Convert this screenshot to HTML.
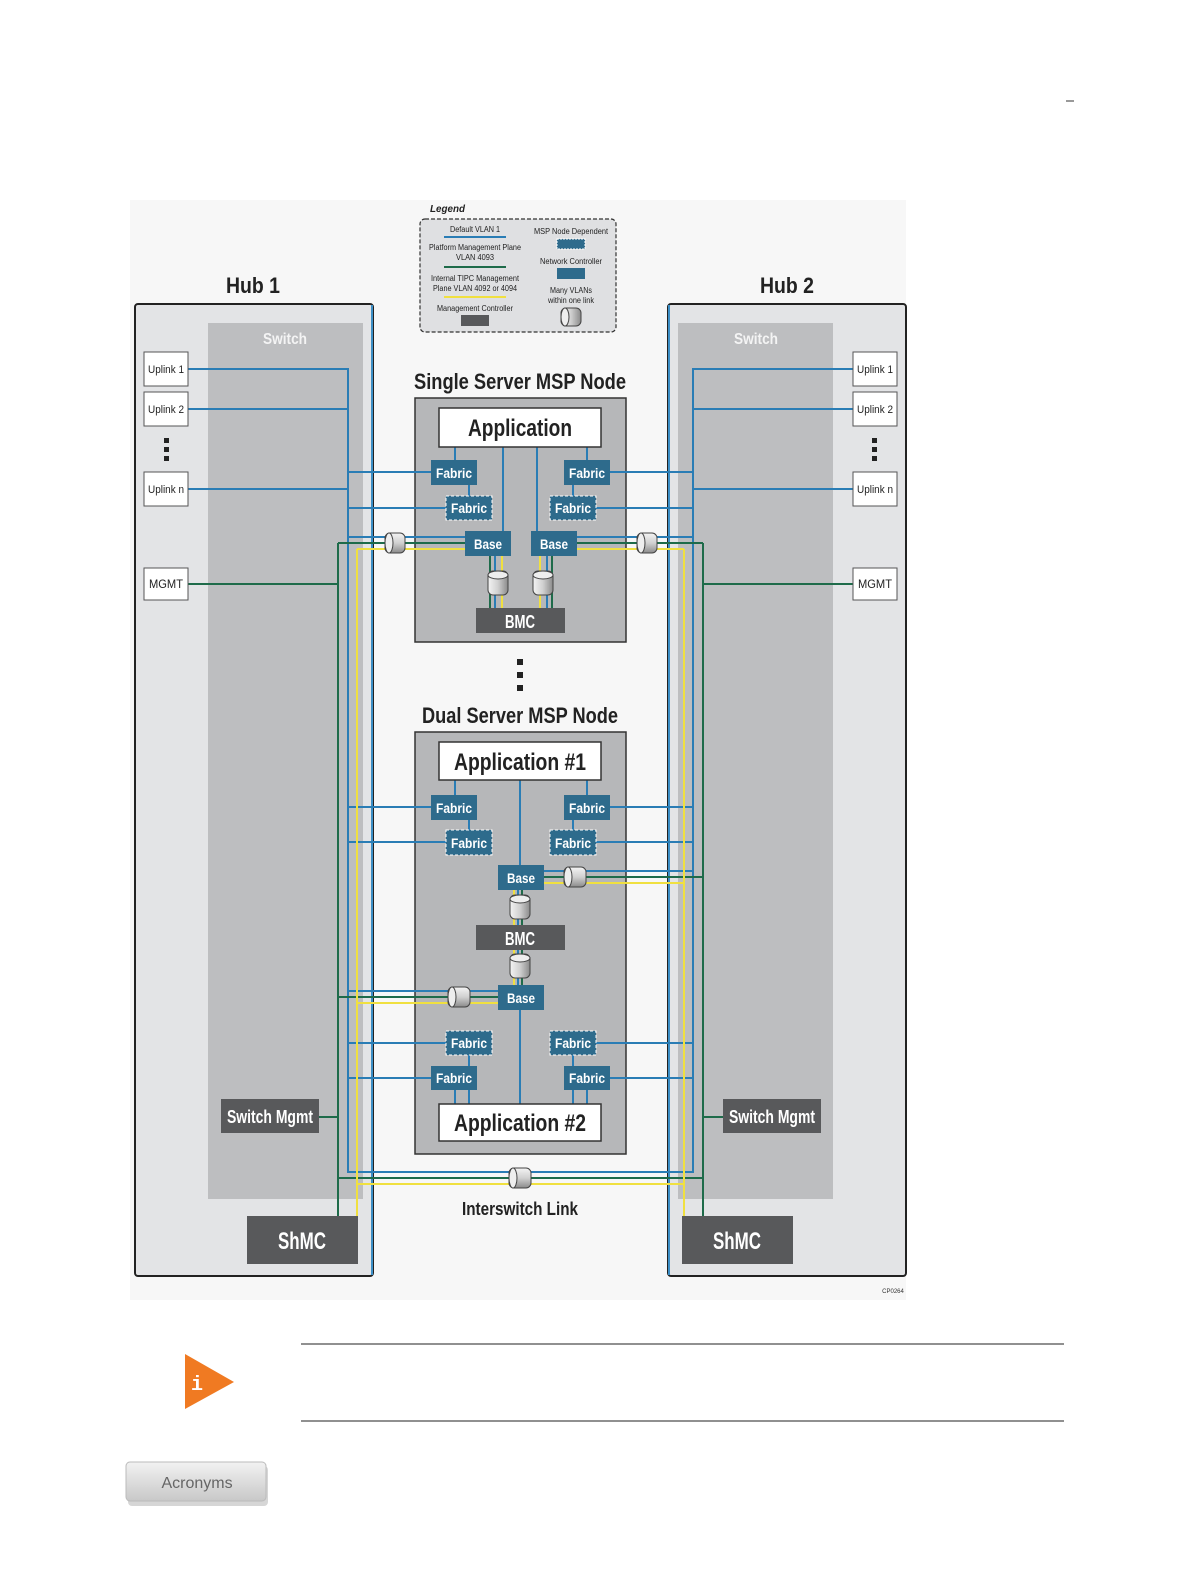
<!DOCTYPE html>
<html><head><meta charset="utf-8"><style>
html,body{margin:0;padding:0;background:#fff;}
svg{display:block;}
</style></head><body>
<svg width="1191" height="1588" viewBox="0 0 1191 1588" xmlns="http://www.w3.org/2000/svg" font-family="'Liberation Sans',sans-serif">
<defs>
<linearGradient id="cyl" x1="0" y1="0" x2="0" y2="1"><stop offset="0" stop-color="#f4f4f4"/><stop offset="0.5" stop-color="#d0d0d0"/><stop offset="1" stop-color="#8a8a8a"/></linearGradient>
<linearGradient id="cylv" x1="0" y1="0" x2="1" y2="0"><stop offset="0" stop-color="#f4f4f4"/><stop offset="0.5" stop-color="#d0d0d0"/><stop offset="1" stop-color="#8a8a8a"/></linearGradient>
<linearGradient id="btn" x1="0" y1="0" x2="0" y2="1"><stop offset="0" stop-color="#f2f2f2"/><stop offset="1" stop-color="#c8c8c8"/></linearGradient>
</defs>
<rect x="130" y="200" width="776" height="1100" fill="#f7f7f7"/>
<line x1="1066" y1="101" x2="1074" y2="101" stroke="#333" stroke-width="1"/>

<!-- Legend -->
<text x="430" y="212" font-size="10" font-style="italic" font-weight="bold" fill="#222" textLength="35" lengthAdjust="spacingAndGlyphs">Legend</text>
<rect x="420" y="219" width="196" height="113" rx="5" fill="#dfe0e2" stroke="#333" stroke-width="1.2" stroke-dasharray="4,2"/>
<g font-size="8" fill="#222" text-anchor="middle" lengthAdjust="spacingAndGlyphs">
<text x="475" y="232" textLength="50" lengthAdjust="spacingAndGlyphs">Default VLAN 1</text>
<line x1="444" y1="237" x2="506" y2="237" stroke="#2a7db5" stroke-width="2"/>
<text x="475" y="250" textLength="92" lengthAdjust="spacingAndGlyphs">Platform Management Plane</text>
<text x="475" y="260" textLength="38" lengthAdjust="spacingAndGlyphs">VLAN 4093</text>
<line x1="444" y1="267" x2="506" y2="267" stroke="#1e6b4a" stroke-width="2"/>
<text x="475" y="281" textLength="88" lengthAdjust="spacingAndGlyphs">Internal TIPC Management</text>
<text x="475" y="291" textLength="84" lengthAdjust="spacingAndGlyphs">Plane VLAN 4092 or 4094</text>
<line x1="444" y1="297" x2="506" y2="297" stroke="#f0e040" stroke-width="2"/>
<text x="475" y="311" textLength="76" lengthAdjust="spacingAndGlyphs">Management Controller</text>
<rect x="461" y="315" width="28" height="11" fill="#58595b"/>
<text x="571" y="234" textLength="74" lengthAdjust="spacingAndGlyphs">MSP Node Dependent</text>
<rect x="557" y="239" width="28" height="10" fill="#2e6b8c" stroke="#fff" stroke-dasharray="2,1"/>
<text x="571" y="264" textLength="62" lengthAdjust="spacingAndGlyphs">Network Controller</text>
<rect x="557" y="268" width="28" height="11" fill="#2e6b8c"/>
<text x="571" y="293" textLength="42" lengthAdjust="spacingAndGlyphs">Many VLANs</text>
<text x="571" y="303" textLength="46" lengthAdjust="spacingAndGlyphs">within one link</text>
<rect x="561" y="308" width="20" height="18" rx="5" fill="url(#cylv)" stroke="#444"/>
<ellipse cx="565" cy="317" rx="4" ry="9" fill="#eee" stroke="#444"/>
</g>

<!-- Hub titles -->
<g font-size="22" font-weight="bold" fill="#222" text-anchor="middle">
<text x="253" y="293" textLength="54" lengthAdjust="spacingAndGlyphs">Hub 1</text>
<text x="787" y="293" textLength="54" lengthAdjust="spacingAndGlyphs">Hub 2</text>
<text x="520" y="389" textLength="212" lengthAdjust="spacingAndGlyphs">Single Server MSP Node</text>
<text x="520" y="723" textLength="196" lengthAdjust="spacingAndGlyphs">Dual Server MSP Node</text>
</g>

<!-- Hub 1 -->
<rect x="135" y="304" width="238" height="972" rx="3" fill="#e3e4e6" stroke="#222" stroke-width="2"/>
<rect x="208" y="323" width="155" height="876" fill="#bdbec0"/>
<text x="285" y="344" font-size="16" font-weight="bold" fill="#f4f4f4" text-anchor="middle" textLength="44" lengthAdjust="spacingAndGlyphs">Switch</text>
<line x1="372" y1="305" x2="372" y2="1275" stroke="#3d8fc6" stroke-width="2"/>
<!-- Hub 2 -->
<rect x="668" y="304" width="238" height="972" rx="3" fill="#e3e4e6" stroke="#222" stroke-width="2"/>
<rect x="678" y="323" width="155" height="876" fill="#bdbec0"/>
<text x="756" y="344" font-size="16" font-weight="bold" fill="#f4f4f4" text-anchor="middle" textLength="44" lengthAdjust="spacingAndGlyphs">Switch</text>
<line x1="669" y1="305" x2="669" y2="1275" stroke="#3d8fc6" stroke-width="2"/>

<!-- Nodes -->
<rect x="415" y="398" width="211" height="244" fill="#b6b7b9" stroke="#333" stroke-width="1.5"/>
<rect x="415" y="732" width="211" height="422" fill="#b6b7b9" stroke="#333" stroke-width="1.5"/>

<!-- WIRES -->
<g fill="none" stroke-width="2">
<g stroke="#2a7db5">
<path d="M188 369H348V1172H693V369H853"/>
<path d="M188 409H348M188 489H348M693 409H853M693 489H853"/>
<path d="M348 472H431M348 508H446M610 472H693M596 508H693"/>
<path d="M348 537H465M577 537H693"/>
<path d="M348 807H431M348 842H446M610 807H693M596 842H693"/>
<path d="M348 1043H446M348 1078H431M596 1043H693M610 1078H693"/>
<path d="M544 871H693M348 991H498"/>
<path d="M455 447V460M469 485V496M503 447V531M587 447V460M573 485V496M537 447V531"/>
<path d="M455 780V795M469 820V830M520 780V865M587 780V795M573 820V830M520 1010V1104M469 1055V1104M455 1090V1104M573 1055V1104M587 1090V1104"/>
<path d="M495 556V608M547 556V608M518 890V925M518 950V985"/>
</g>
<g stroke="#1e6b4a">
<path d="M188 584H338M703 584H853"/>
<path d="M338 543H465M577 543H703"/>
<path d="M338 543V1216M703 543V1216M338 1178H703"/>
<path d="M319 1117H338M703 1117H723"/>
<path d="M544 877H703M338 997H498"/>
<path d="M490 556V608M552 556V608M522 890V925M522 950V985"/>
</g>
<g stroke="#f0e040">
<path d="M357 549H465M577 549H684"/>
<path d="M357 549V1216M684 549V1216M357 1184H684"/>
<path d="M544 883H684M357 1003H498"/>
<path d="M502 556V608M540 556V608M514 890V925M514 950V985"/>
</g>
</g>

<!-- Uplinks -->
<g font-size="11" fill="#222" text-anchor="middle">
<rect x="144" y="352" width="44" height="34" fill="#fff" stroke="#555"/><text x="166" y="373" textLength="36" lengthAdjust="spacingAndGlyphs">Uplink 1</text>
<rect x="144" y="392" width="44" height="34" fill="#fff" stroke="#555"/><text x="166" y="413" textLength="36" lengthAdjust="spacingAndGlyphs">Uplink 2</text>
<rect x="144" y="472" width="44" height="34" fill="#fff" stroke="#555"/><text x="166" y="493" textLength="36" lengthAdjust="spacingAndGlyphs">Uplink n</text>
<rect x="144" y="568" width="44" height="32" fill="#fff" stroke="#555"/><text x="166" y="588" font-size="12" textLength="34" lengthAdjust="spacingAndGlyphs">MGMT</text>
<rect x="853" y="352" width="44" height="34" fill="#fff" stroke="#555"/><text x="875" y="373" textLength="36" lengthAdjust="spacingAndGlyphs">Uplink 1</text>
<rect x="853" y="392" width="44" height="34" fill="#fff" stroke="#555"/><text x="875" y="413" textLength="36" lengthAdjust="spacingAndGlyphs">Uplink 2</text>
<rect x="853" y="472" width="44" height="34" fill="#fff" stroke="#555"/><text x="875" y="493" textLength="36" lengthAdjust="spacingAndGlyphs">Uplink n</text>
<rect x="853" y="568" width="44" height="32" fill="#fff" stroke="#555"/><text x="875" y="588" font-size="12" textLength="34" lengthAdjust="spacingAndGlyphs">MGMT</text>
</g>
<g fill="#222">
<rect x="164" y="438" width="5" height="5"/><rect x="164" y="447" width="5" height="5"/><rect x="164" y="456" width="5" height="5"/>
<rect x="872" y="438" width="5" height="5"/><rect x="872" y="447" width="5" height="5"/><rect x="872" y="456" width="5" height="5"/>
<rect x="517" y="659" width="6" height="6"/><rect x="517" y="672" width="6" height="6"/><rect x="517" y="685" width="6" height="6"/>
</g>

<!-- Apps -->
<g font-size="24" font-weight="bold" fill="#222" text-anchor="middle">
<rect x="439" y="408" width="162" height="39" fill="#fff" stroke="#333" stroke-width="1.5"/><text x="520" y="436" textLength="104" lengthAdjust="spacingAndGlyphs">Application</text>
<rect x="439" y="742" width="162" height="38" fill="#fff" stroke="#333" stroke-width="1.5"/><text x="520" y="770" textLength="132" lengthAdjust="spacingAndGlyphs">Application #1</text>
<rect x="439" y="1104" width="162" height="37" fill="#fff" stroke="#333" stroke-width="1.5"/><text x="520" y="1131" textLength="132" lengthAdjust="spacingAndGlyphs">Application #2</text>
</g>

<!-- Fabric / Base -->
<g font-size="14" font-weight="bold" fill="#fff" text-anchor="middle">
<rect x="431" y="460" width="46" height="25" fill="#2e6b8c"/><text x="454" y="478" textLength="36" lengthAdjust="spacingAndGlyphs">Fabric</text>
<rect x="446" y="496" width="46" height="24" fill="#2e6b8c" stroke="#fff" stroke-dasharray="3,2"/><text x="469" y="513" textLength="36" lengthAdjust="spacingAndGlyphs">Fabric</text>
<rect x="564" y="460" width="46" height="25" fill="#2e6b8c"/><text x="587" y="478" textLength="36" lengthAdjust="spacingAndGlyphs">Fabric</text>
<rect x="550" y="496" width="46" height="24" fill="#2e6b8c" stroke="#fff" stroke-dasharray="3,2"/><text x="573" y="513" textLength="36" lengthAdjust="spacingAndGlyphs">Fabric</text>
<rect x="465" y="531" width="46" height="25" fill="#2e6b8c"/><text x="488" y="549" textLength="28" lengthAdjust="spacingAndGlyphs">Base</text>
<rect x="531" y="531" width="46" height="25" fill="#2e6b8c"/><text x="554" y="549" textLength="28" lengthAdjust="spacingAndGlyphs">Base</text>
<rect x="431" y="795" width="46" height="25" fill="#2e6b8c"/><text x="454" y="813" textLength="36" lengthAdjust="spacingAndGlyphs">Fabric</text>
<rect x="446" y="830" width="46" height="25" fill="#2e6b8c" stroke="#fff" stroke-dasharray="3,2"/><text x="469" y="848" textLength="36" lengthAdjust="spacingAndGlyphs">Fabric</text>
<rect x="564" y="795" width="46" height="25" fill="#2e6b8c"/><text x="587" y="813" textLength="36" lengthAdjust="spacingAndGlyphs">Fabric</text>
<rect x="550" y="830" width="46" height="25" fill="#2e6b8c" stroke="#fff" stroke-dasharray="3,2"/><text x="573" y="848" textLength="36" lengthAdjust="spacingAndGlyphs">Fabric</text>
<rect x="498" y="865" width="46" height="25" fill="#2e6b8c"/><text x="521" y="883" textLength="28" lengthAdjust="spacingAndGlyphs">Base</text>
<rect x="498" y="985" width="46" height="25" fill="#2e6b8c"/><text x="521" y="1003" textLength="28" lengthAdjust="spacingAndGlyphs">Base</text>
<rect x="446" y="1031" width="46" height="24" fill="#2e6b8c" stroke="#fff" stroke-dasharray="3,2"/><text x="469" y="1048" textLength="36" lengthAdjust="spacingAndGlyphs">Fabric</text>
<rect x="550" y="1031" width="46" height="24" fill="#2e6b8c" stroke="#fff" stroke-dasharray="3,2"/><text x="573" y="1048" textLength="36" lengthAdjust="spacingAndGlyphs">Fabric</text>
<rect x="431" y="1066" width="46" height="24" fill="#2e6b8c"/><text x="454" y="1083" textLength="36" lengthAdjust="spacingAndGlyphs">Fabric</text>
<rect x="564" y="1066" width="46" height="24" fill="#2e6b8c"/><text x="587" y="1083" textLength="36" lengthAdjust="spacingAndGlyphs">Fabric</text>
</g>

<!-- Gray boxes -->
<g font-weight="bold" fill="#fff" text-anchor="middle">
<rect x="476" y="608" width="89" height="25" fill="#58595b"/><text x="520" y="628" font-size="18" textLength="30" lengthAdjust="spacingAndGlyphs">BMC</text>
<rect x="476" y="925" width="89" height="25" fill="#58595b"/><text x="520" y="945" font-size="18" textLength="30" lengthAdjust="spacingAndGlyphs">BMC</text>
<rect x="221" y="1099" width="98" height="34" fill="#58595b"/><text x="270" y="1123" font-size="18" textLength="86" lengthAdjust="spacingAndGlyphs">Switch Mgmt</text>
<rect x="723" y="1099" width="98" height="34" fill="#58595b"/><text x="772" y="1123" font-size="18" textLength="86" lengthAdjust="spacingAndGlyphs">Switch Mgmt</text>
<rect x="247" y="1216" width="111" height="48" fill="#58595b"/><text x="302" y="1249" font-size="24" textLength="48" lengthAdjust="spacingAndGlyphs">ShMC</text>
<rect x="682" y="1216" width="111" height="48" fill="#58595b"/><text x="737" y="1249" font-size="24" textLength="48" lengthAdjust="spacingAndGlyphs">ShMC</text>
</g>

<!-- Cylinders -->
<g stroke="#444" stroke-width="1">
<g transform="translate(395,543)"><rect x="-10" y="-10" width="20" height="20" rx="5" fill="url(#cyl)"/><ellipse cx="-6" cy="0" rx="4" ry="10" fill="#eee"/></g>
<g transform="translate(647,543)"><rect x="-10" y="-10" width="20" height="20" rx="5" fill="url(#cyl)"/><ellipse cx="-6" cy="0" rx="4" ry="10" fill="#eee"/></g>
<g transform="translate(575,877)"><rect x="-11" y="-10" width="22" height="20" rx="5" fill="url(#cyl)"/><ellipse cx="-7" cy="0" rx="4" ry="10" fill="#eee"/></g>
<g transform="translate(459,997)"><rect x="-11" y="-10" width="22" height="20" rx="5" fill="url(#cyl)"/><ellipse cx="-7" cy="0" rx="4" ry="10" fill="#eee"/></g>
<g transform="translate(520,1178)"><rect x="-11" y="-10" width="22" height="20" rx="5" fill="url(#cyl)"/><ellipse cx="-7" cy="0" rx="4" ry="10" fill="#eee"/></g>
<g transform="translate(498,583)"><rect x="-10" y="-12" width="20" height="24" rx="5" fill="url(#cylv)"/><ellipse cx="0" cy="-8" rx="10" ry="4" fill="#eee"/></g>
<g transform="translate(543,583)"><rect x="-10" y="-12" width="20" height="24" rx="5" fill="url(#cylv)"/><ellipse cx="0" cy="-8" rx="10" ry="4" fill="#eee"/></g>
<g transform="translate(520,907)"><rect x="-10" y="-12" width="20" height="24" rx="5" fill="url(#cylv)"/><ellipse cx="0" cy="-8" rx="10" ry="4" fill="#eee"/></g>
<g transform="translate(520,966)"><rect x="-10" y="-12" width="20" height="24" rx="5" fill="url(#cylv)"/><ellipse cx="0" cy="-8" rx="10" ry="4" fill="#eee"/></g>
</g>

<text x="520" y="1215" font-size="18" font-weight="bold" fill="#222" text-anchor="middle" textLength="116" lengthAdjust="spacingAndGlyphs">Interswitch Link</text>
<text x="893" y="1293" font-size="6" fill="#333" text-anchor="middle">CP0264</text>

<!-- Bottom -->
<line x1="301" y1="1344" x2="1064" y2="1344" stroke="#222" stroke-width="1"/>
<line x1="301" y1="1421" x2="1064" y2="1421" stroke="#222" stroke-width="1"/>
<polygon points="185,1354 234,1382 185,1409" fill="#f07a22"/>
<text x="197" y="1390" font-size="20" font-weight="bold" fill="#fff" text-anchor="middle" font-family="'Liberation Mono',monospace">i</text>
<rect x="128" y="1466" width="140" height="40" rx="4" fill="#999" opacity="0.4"/>
<rect x="126" y="1462" width="140" height="39" rx="4" fill="url(#btn)" stroke="#bbb"/>
<text x="197" y="1488" font-size="16" fill="#666" text-anchor="middle">Acronyms</text>
</svg>
</body></html>
